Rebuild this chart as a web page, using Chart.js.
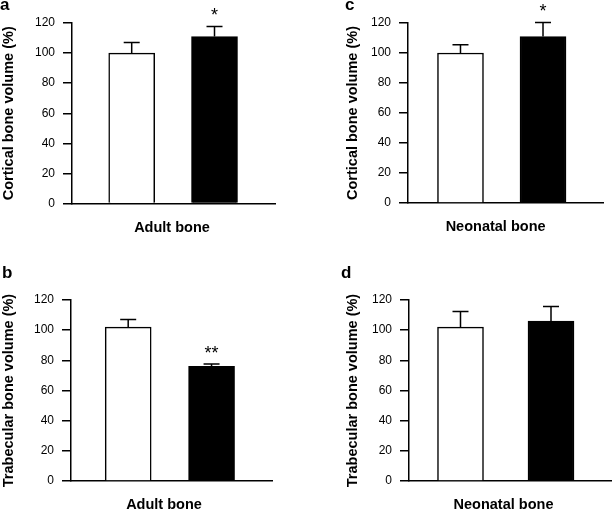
<!DOCTYPE html>
<html>
<head>
<meta charset="utf-8">
<script src="https://cdn.jsdelivr.net/npm/chart.js@4.4.0/dist/chart.umd.min.js"></script>
<style>
  html, body { margin: 0; padding: 0; background: #fff; }
  #wrap { position: relative; width: 612px; height: 509px; overflow: hidden; }
  canvas { position: absolute; }
</style>
</head>
<body>
<div id="wrap">
  <canvas id="panelA" width="306" height="255" style="left:0;top:0"></canvas>
  <canvas id="panelC" width="306" height="255" style="left:306px;top:0"></canvas>
  <canvas id="panelB" width="306" height="254" style="left:0;top:255px"></canvas>
  <canvas id="panelD" width="306" height="254" style="left:306px;top:255px"></canvas>
</div>
<script>
// groups: white bar = control, black bar = treated
const groups = ['control', 'treated'];
const barFill = ['#ffffff', '#000000'];
const yTicks = [0, 20, 40, 60, 80, 100, 120];

const adultCorticalMean = [100, 111];
const adultCorticalErr = [7, 6.7];
const adultCorticalSig = ['', '*'];

const adultTrabecularMean = [102, 76];
const adultTrabecularErr = [5, 1.5];
const adultTrabecularSig = ['', '**'];

const neonatalCorticalMean = [100, 111];
const neonatalCorticalErr = [5.5, 9.3];
const neonatalCorticalSig = ['', '*'];

const neonatalTrabecularMean = [102, 106];
const neonatalTrabecularErr = [10.4, 9.7];
const neonatalTrabecularSig = ['', ''];

const FONT = "'Liberation Sans', Arial, Helvetica, sans-serif";

// layout of each panel (canvas-local pixels)
const panels = [
  { id: 'panelA', letter: 'a', letterAt: [0, 10], yTitle: 'Cortical bone volume (%)', titlePad: 0,
    xTitle: 'Adult bone', xTitleAt: [172, 232],
    mean: adultCorticalMean, err: adultCorticalErr, sig: adultCorticalSig,
    area: { left: 72, top: 23, right: 275.7, bottom: 203.5 }, xRange: [-0.721, 1.739] },
  { id: 'panelC', letter: 'c', letterAt: [39, 10], yTitle: 'Cortical bone volume (%)', titlePad: 37.8,
    xTitle: 'Neonatal bone', xTitleAt: [189.6, 231],
    mean: neonatalCorticalMean, err: neonatalCorticalErr, sig: neonatalCorticalSig,
    area: { left: 102, top: 23, right: 297.5, bottom: 203 }, xRange: [-0.636, 1.733] },
  { id: 'panelB', letter: 'b', letterAt: [2, 23], yTitle: 'Trabecular bone volume (%)', titlePad: 0,
    xTitle: 'Adult bone', xTitleAt: [164, 254],
    mean: adultTrabecularMean, err: adultTrabecularErr, sig: adultTrabecularSig,
    area: { left: 71, top: 45, right: 272, bottom: 226 }, xRange: [-0.686, 1.725] },
  { id: 'panelD', letter: 'd', letterAt: [35, 23], yTitle: 'Trabecular bone volume (%)', titlePad: 37.8,
    xTitle: 'Neonatal bone', xTitleAt: [197.5, 254],
    mean: neonatalTrabecularMean, err: neonatalTrabecularErr, sig: neonatalTrabecularSig,
    area: { left: 103, top: 45, right: 306, bottom: 226 }, xRange: [-0.569, 1.674] }
];

// error bars (upper whisker only) + significance stars + panel letter + x label
const panelExtras = {
  id: 'panelExtras',
  afterDatasetsDraw(chart, args, opts) {
    const { ctx, scales: { x, y } } = chart;
    ctx.save();
    ctx.strokeStyle = '#000';
    ctx.fillStyle = '#000';
    ctx.lineWidth = 1.5;
    opts.mean.forEach((m, i) => {
      const cx = x.getPixelForValue(i);
      const base = y.getPixelForValue(m);
      const top = y.getPixelForValue(m + opts.err[i]);
      ctx.beginPath();
      ctx.moveTo(cx, base);
      ctx.lineTo(cx, top);
      ctx.moveTo(cx - 8, top);
      ctx.lineTo(cx + 8, top);
      ctx.stroke();
      if (opts.sig[i]) {
        ctx.font = '18px ' + FONT;
        ctx.textAlign = 'center';
        ctx.textBaseline = 'alphabetic';
        ctx.fillText(opts.sig[i], cx, top - 5.5);
      }
    });
    ctx.restore();
  },
  afterDraw(chart, args, opts) {
    const ctx = chart.ctx;
    ctx.save();
    ctx.fillStyle = '#000';
    ctx.textBaseline = 'alphabetic';
    ctx.font = 'bold 17px ' + FONT;
    ctx.textAlign = 'left';
    ctx.fillText(opts.letter, opts.letterAt[0], opts.letterAt[1]);
    ctx.font = 'bold 14.5px ' + FONT;
    ctx.textAlign = 'center';
    ctx.fillText(opts.xTitle, opts.xTitleAt[0], opts.xTitleAt[1]);
    ctx.restore();
  }
};

function makePanel(p) {
  const canvas = document.getElementById(p.id);
  const W = canvas.width, H = canvas.height;
  new Chart(canvas, {
    type: 'bar',
    data: {
      labels: groups,
      datasets: [{
        data: p.mean.map((v, i) => ({ x: i, y: v })),
        backgroundColor: barFill,
        borderColor: '#000',
        borderWidth: 1.5,
        barThickness: 46
      }]
    },
    options: {
      responsive: false,
      animation: false,
      events: [],
      layout: { padding: { left: 0, top: p.area.top, right: W - p.area.right, bottom: 0 } },
      plugins: {
        legend: { display: false },
        tooltip: { enabled: false },
        panelExtras: {
          mean: p.mean, err: p.err, sig: p.sig,
          letter: p.letter, letterAt: p.letterAt,
          xTitle: p.xTitle, xTitleAt: p.xTitleAt
        }
      },
      scales: {
        x: {
          type: 'linear',
          offset: false,
          min: p.xRange[0],
          max: p.xRange[1],
          ticks: { display: false },
          grid: { display: false },
          border: { display: true, color: '#000', width: 1.5 },
          afterFit: s => { s.height = H - p.area.bottom; }
        },
        y: {
          min: 0,
          max: 120,
          afterBuildTicks: s => { s.ticks = yTicks.map(v => ({ value: v })); },
          ticks: { color: '#000', font: { family: FONT, size: 12 }, padding: 8 },
          grid: { drawOnChartArea: false, drawTicks: true, tickLength: 9, color: '#000', lineWidth: 1.5 },
          border: { display: true, color: '#000', width: 1.5 },
          title: {
            display: true,
            text: p.yTitle,
            color: '#000',
            font: { family: FONT, size: 14.5, weight: 'bold' },
            padding: { top: p.titlePad, bottom: 0 }
          },
          afterFit: s => { s.width = p.area.left; }
        }
      }
    },
    plugins: [panelExtras]
  });
}

panels.forEach(makePanel);
</script>
</body>
</html>
